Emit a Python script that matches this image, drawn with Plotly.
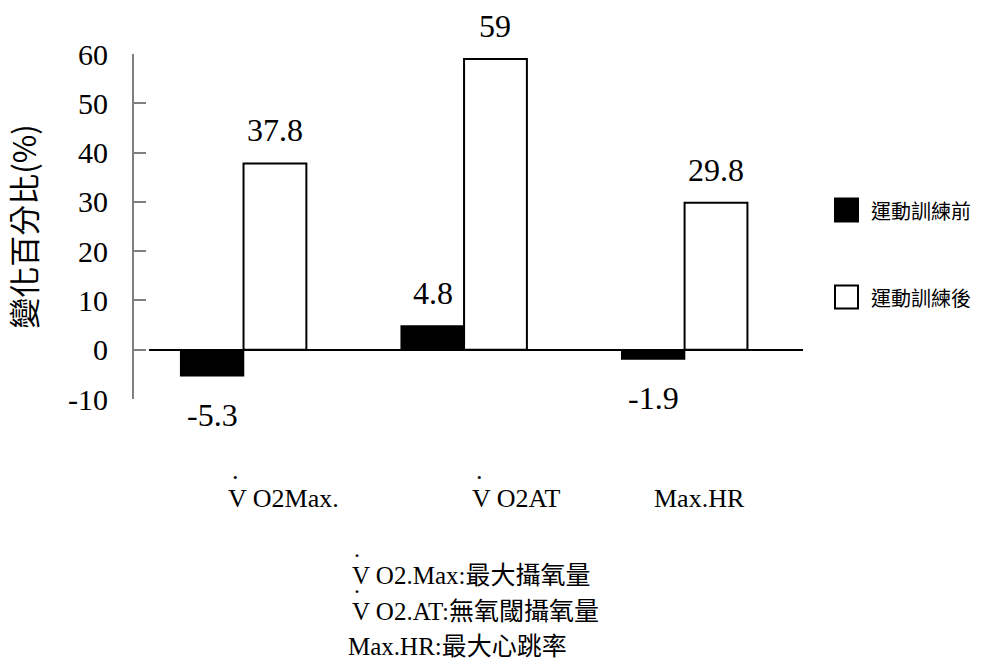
import plotly.graph_objects as go

# ---- data -------------------------------------------------------------
categories = ["VO2Max", "VO2AT", "MaxHR"]
category_labels = ["V O2Max.", "V O2AT", "Max.HR"]
category_dotted = [True, True, False]          # dot over the V (V-dot notation)
series_names = ["運動訓練前", "運動訓練後"]
before_training = [-5.3, 4.8, -1.9]
after_training = [37.8, 59, 29.8]
y_ticks = [-10, 0, 10, 20, 30, 40, 50, 60]
y_tick_labels = [str(t) for t in y_ticks]
y_title = "變化百分比(%)"
footnote_latin = ["V O2.Max:", "V O2.AT:", "Max.HR:"]
footnote_cjk = ["最大攝氧量", "無氧閾攝氧量", "最大心跳率"]
footnote_dotted = [True, True, False]

# ---- layout geometry (pixels) -----------------------------------------
FIG_W, FIG_H = 985, 664
L, R, T, B = 120, 182, 54, 265
PW = FIG_W - L - R
PH = FIG_H - T - B
BARGAP = 0.43

def px_x(p):
    return (p - L) / PW

def px_y(p):
    return (T + PH - p) / PH

SERIF = "Liberation Serif"
CJK = "Noto Sans CJK TC"
MIXED = "Liberation Serif, Noto Sans CJK TC"

fig = go.Figure()
fig.add_trace(go.Bar(
    x=categories, y=before_training, name=series_names[0],
    marker=dict(color="black", line=dict(color="black", width=1.5)),
    showlegend=False,
))
fig.add_trace(go.Bar(
    x=categories, y=after_training, name=series_names[1],
    marker=dict(color="white", line=dict(color="black", width=2)),
    showlegend=False,
))

annotations = []

# value labels over / under each bar
half = (1 - BARGAP) / 4
for i in range(len(categories)):
    for vals, dx in ((before_training, -half), (after_training, half)):
        v = vals[i]
        annotations.append(dict(
            x=i + dx, y=v, xref="x", yref="y",
            text=f"{v:g}", showarrow=False,
            yanchor="bottom" if v >= 0 else "top",
            yshift=13 if v >= 0 else -19,
            font=dict(family=SERIF, size=32, color="black"),
        ))

# category labels under the plot
label_dx = [-0.079, 0.027, -0.147]   # left edge offset from category centre
for i, (lab, dotted) in enumerate(zip(category_labels, category_dotted)):
    annotations.append(dict(
        x=i + label_dx[i], y=px_y(498), xref="x", yref="paper",
        text=lab, showarrow=False, xanchor="left", yanchor="middle",
        font=dict(family=SERIF, size=26, color="black"),
    ))
    if dotted:
        annotations.append(dict(
            x=i + label_dx[i] + 0.043, y=px_y(470), xref="x", yref="paper",
            text=".", showarrow=False, xanchor="center", yanchor="middle",
            font=dict(family=SERIF, size=26, color="black"),
        ))

# legend drawn as swatches + labels
shapes = []
legend_rows = [(210, "black"), (297, "white")]
for (cy, fill), name in zip(legend_rows, series_names):
    shapes.append(dict(
        type="rect", xref="paper", yref="paper",
        x0=px_x(835), x1=px_x(858), y0=px_y(cy + 11.5), y1=px_y(cy - 11.5),
        fillcolor=fill, line=dict(color="black", width=2),
    ))
    annotations.append(dict(
        x=px_x(869), y=px_y(cy), xref="paper", yref="paper",
        text=name, showarrow=False, xanchor="left", yanchor="middle",
        font=dict(family=CJK, size=20, color="black"),
    ))

# footnote with abbreviations
foot_rows = [(350, 575), (350, 611), (346, 646)]
for (lx, cy), lat, cjk, dotted in zip(foot_rows, footnote_latin, footnote_cjk, footnote_dotted):
    annotations.append(dict(
        x=px_x(lx), y=px_y(cy), xref="paper", yref="paper",
        text=f'{lat}<span style="font-size:25px">{cjk}</span>',
        showarrow=False, xanchor="left", yanchor="middle",
        font=dict(family=MIXED, size=25, color="black"),
    ))
    if dotted:
        annotations.append(dict(
            x=px_x(lx + 7), y=px_y(cy - 26), xref="paper", yref="paper",
            text=".", showarrow=False, xanchor="center", yanchor="middle",
            font=dict(family=SERIF, size=24, color="black"),
        ))

fig.update_layout(
    width=FIG_W, height=FIG_H,
    margin=dict(l=L, r=R, t=T, b=B, pad=0),
    paper_bgcolor="white", plot_bgcolor="white",
    barmode="group", bargap=BARGAP, bargroupgap=0,
    showlegend=False,
    annotations=annotations, shapes=shapes,
    xaxis=dict(
        domain=[px_x(149), 1], range=[-0.4286, 2.537],
        showline=False, showticklabels=False, ticks="",
        showgrid=False, zeroline=False,
    ),
    yaxis=dict(
        anchor="free", position=px_x(133),
        range=[-10, 60], tickvals=y_ticks, ticktext=y_tick_labels,
        showline=True, linecolor="#808080", linewidth=2,
        ticks="inside", ticklen=12, tickcolor="#808080", tickwidth=2,
        ticklabelstandoff=18,
        tickfont=dict(family=SERIF, size=30, color="black"),
        showgrid=False,
        zeroline=True, zerolinecolor="black", zerolinewidth=2,
        title=dict(text=y_title, standoff=21,
                   font=dict(family=CJK, size=31, color="black")),
    ),
)

fig.write_html("out.html")
